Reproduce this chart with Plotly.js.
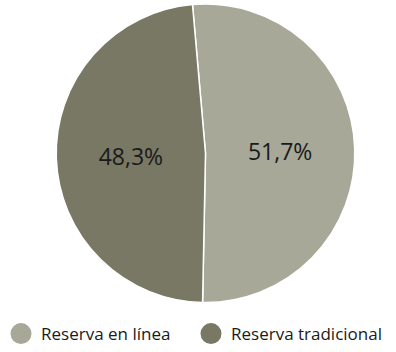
<!DOCTYPE html>
<html><head><meta charset="utf-8">
<script src="https://cdn.plot.ly/plotly-3.0.1.min.js"></script>
<style>html,body{margin:0;padding:0;background:#fff}#c{width:396px;height:352px}</style>
</head><body><div id="c"></div>
<script>
var categories = ["Reserva en línea", "Reserva tradicional"];
var values = [51.7, 48.3];
var textLabels = ["51,7%", "48,3%"];
var colors = ["#a7a897", "#787864"];

var traces = [{
  type: "pie",
  labels: categories,
  values: values,
  text: textLabels,
  textinfo: "text",
  textposition: "inside",
  insidetextorientation: "horizontal",
  sort: false,
  direction: "clockwise",
  rotation: -5,
  marker: {colors: colors, line: {color: "#ffffff", width: 1.5}},
  textfont: {family: "Open Sans, sans-serif", size: 23, color: "#1a1a1a"},
  showlegend: false,
  hoverinfo: "none",
  domain: {x: [54/396, 357/396], y: [1 - 306/352, 1 - 4/352]}
}];
var legendIds = ["legend", "legend2"];
categories.forEach(function (c, i) {
  traces.push({
    type: "scatter", mode: "markers", x: [null], y: [null], name: c,
    legend: legendIds[i],
    marker: {symbol: "circle", size: 16, color: colors[i], line: {color: colors[i], width: 5}},
    showlegend: true, hoverinfo: "none"
  });
});

var legendFont = {family: "Open Sans, sans-serif", size: 17, color: "#1a1a1a"};
var layout = {
  width: 396, height: 352,
  margin: {l: 0, r: 0, t: 0, b: 0},
  paper_bgcolor: "#ffffff", plot_bgcolor: "#ffffff",
  xaxis: {visible: false}, yaxis: {visible: false},
  showlegend: true,
  legend: {
    orientation: "h", x: 1/396, xanchor: "left", y: 1 - 338/352, yanchor: "middle",
    font: legendFont, itemsizing: "trace", itemwidth: 30
  },
  legend2: {
    orientation: "h", x: 191/396, xanchor: "left", y: 1 - 338/352, yanchor: "middle",
    font: legendFont, itemsizing: "trace", itemwidth: 30
  }
};
Plotly.newPlot("c", traces, layout, {staticPlot: true, displayModeBar: false});
</script></body></html>
